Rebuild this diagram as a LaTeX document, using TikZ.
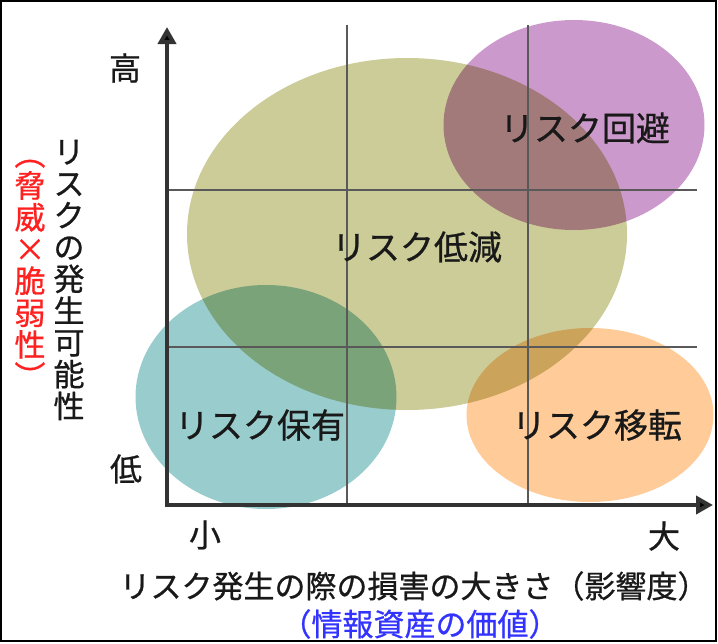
\documentclass[tikz,border=0pt]{standalone}
\usepackage{fontspec}
\setmainfont{Noto Sans CJK JP}[FakeBold=0.7]
\usepackage{graphicx}
\usetikzlibrary{arrows.meta,shapes.geometric}

\definecolor{reduceolive}{HTML}{CCCC99}
\definecolor{avoidpurple}{HTML}{CC99CC}
\definecolor{retainteal}{HTML}{99CCCC}
\definecolor{transferorange}{HTML}{FFCC99}
\definecolor{notered}{HTML}{FF2020}
\definecolor{noteblue}{HTML}{3333FF}
\newcommand{\vparen}[1]{\rotatebox[origin=c]{-90}{#1}}

\begin{document}
\begin{tikzpicture}[
    x=1pt, y=-1pt,
    zone/.style={
        ellipse,
        inner sep=0pt
    },
    grid/.style={
        draw=black!65,
        line width=1.6pt
    },
    axis/.style={
        draw=black!80,
        line width=4pt,
        {Triangle[length=17pt,width=18pt,fill=black]}-{Triangle[length=17pt,width=18pt,fill=black]}
    },
    zonelabel/.style={
        font=\fontsize{34}{36}\selectfont,
        text=black!90,
        inner sep=0pt
    },
    ticklabel/.style={
        font=\fontsize{32}{34}\selectfont,
        text=black!90,
        inner sep=0pt
    },
    axislabel/.style={
        font=\fontsize{31}{33}\selectfont,
        inner sep=0pt
    },
    vlabel/.style={
        font=\fontsize{31}{31.8}\selectfont,
        align=center,
        inner sep=0pt
    }
]
\useasboundingbox (0,0) rectangle (718,643);
\draw[line width=2pt] (1,1) rectangle (716,641);

% risk response zones
\begin{scope}[blend group=multiply]
\node[zone, fill=reduceolive, minimum width=440pt, minimum height=352pt] (reduce) at (407,234) {};
\node[zone, fill=avoidpurple, minimum width=261pt, minimum height=210pt] (avoid) at (574,125) {};
\node[zone, fill=retainteal, minimum width=261pt, minimum height=224pt] (retain) at (266,397) {};
\node[zone, fill=transferorange, minimum width=247pt, minimum height=174pt] (transfer) at (590,415) {};
\end{scope}

% quadrant grid
\coordinate (v1top) at (347,25);
\coordinate (v1bot) at (347,505);
\coordinate (v2top) at (528,25);
\coordinate (v2bot) at (528,505);
\coordinate (h1left) at (167,190);
\coordinate (h1right) at (697,190);
\coordinate (h2left) at (167,347);
\coordinate (h2right) at (697,347);
\draw[grid] (v1top) -- (v1bot);
\draw[grid] (v2top) -- (v2bot);
\draw[grid] (h1left) -- (h1right);
\draw[grid] (h2left) -- (h2right);

% axes
\coordinate (origin) at (167,505);
\coordinate (ytip) at (167,27);
\coordinate (xtip) at (713,505);
\draw[axis] (ytip) -- (origin) -- (xtip);

\node[zonelabel] (avoidtext) at (585,128) {リスク回避};
\node[zonelabel] (reducetext) at (417,247) {リスク低減};
\node[zonelabel] (retaintext) at (260,425) {リスク保有};
\node[zonelabel] (transfertext) at (597,425) {リスク移転};

\node[ticklabel] (high) at (125,68) {高};
\node[ticklabel] (low) at (126,469) {低};
\node[ticklabel] (small) at (205,535) {小};
\node[ticklabel] (large) at (664,536) {大};

\node[axislabel, text=black!90] (xlabel) at (414,586) {リスク発生の際の損害の大きさ（影響度）};
\node[axislabel, text=noteblue] (xnote) at (420,624) {（情報資産の価値）};

\node[vlabel, text=black!90] (ylabel) at (69,280) {リ\\ス\\ク\\の\\発\\生\\可\\能\\性};
\node[vlabel, text=notered] (ynote) at (30,265) {\vparen{（}\\脅\\威\\×\\脆\\弱\\性\\\vparen{）}};
\end{tikzpicture}
\end{document}
